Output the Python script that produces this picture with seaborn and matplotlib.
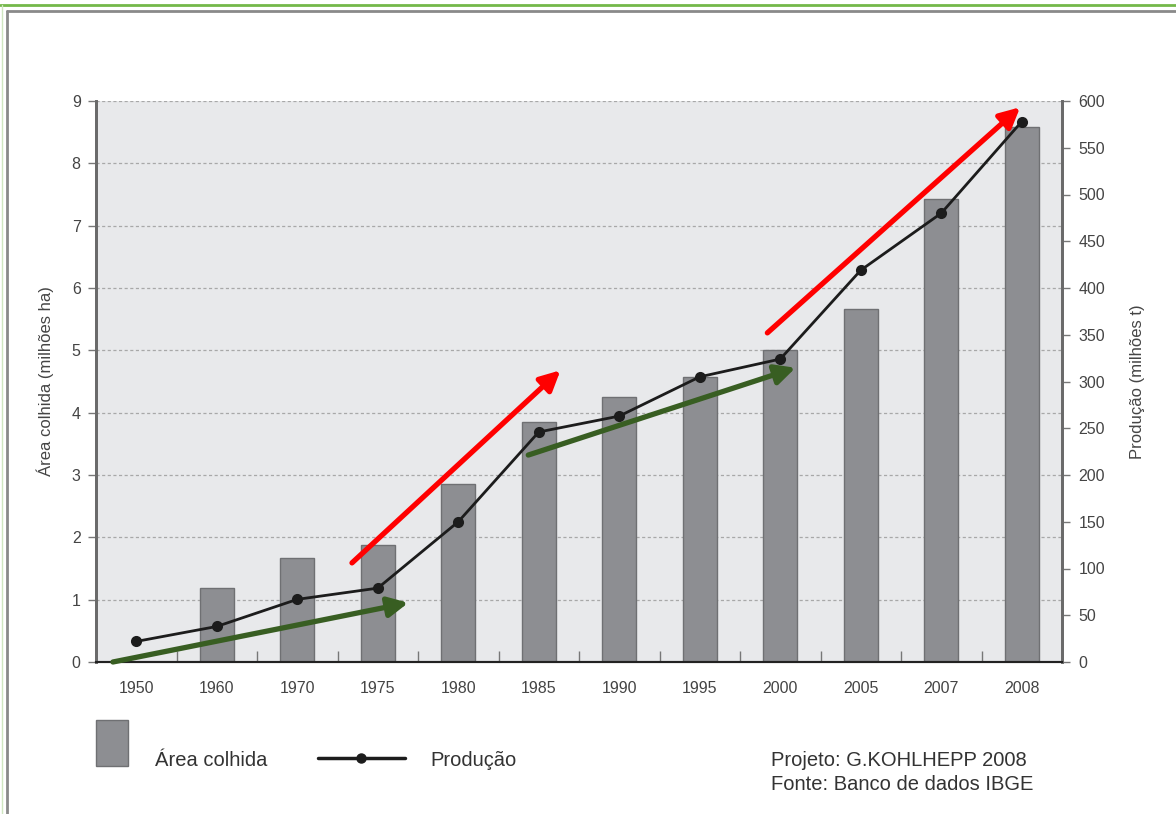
import numpy as np
import matplotlib
matplotlib.use("Agg")
import matplotlib.pyplot as plt
import seaborn as sns
from matplotlib.lines import Line2D
from matplotlib.patches import Rectangle

# dados
anos = ["1950", "1960", "1970", "1975", "1980", "1985", "1990", "1995",
        "2000", "2005", "2007", "2008"]
area_colhida = [np.nan, 1.19, 1.67, 1.88, 2.86, 3.85, 4.25, 4.57, 5.0, 5.67, 7.43, 8.59]
producao = [22, 38, 67, 79, 150, 246, 263, 305, 324, 419, 480, 578]

# setas (inicio, fim) em unidades de categoria / area
setas_vermelhas = [((2.68, 1.59), (5.27, 4.68)), ((7.84, 5.28), (10.98, 8.90))]
setas_verdes = [((-0.29, 0.0), (3.38, 0.95)), ((4.87, 3.32), (8.19, 4.72))]

sns.set_theme(style="white")
plt.rcParams["font.family"] = ["Liberation Sans", "DejaVu Sans"]

fig = plt.figure(figsize=(11.76, 8.14), dpi=100)
ax = fig.add_axes([96 / 1176, 1 - 662 / 814, 966 / 1176, 561 / 814])
ax.set_facecolor("#e8e9eb")

sns.barplot(x=anos, y=area_colhida, order=anos, ax=ax, color="#8d8e92",
            edgecolor="#6f7073", linewidth=1, width=0.42, saturation=1, zorder=2)
ax.set_xlim(-0.5, 11.5)
ax.set_ylim(0, 9)
ax.set_yticks(range(10))
ax.grid(axis="y", color="#a8a8a8", linestyle=(0, (2.5, 2)), linewidth=0.9)
ax.set_axisbelow(True)

ax2 = ax.twinx()
sns.pointplot(x=anos, y=producao, order=anos, ax=ax2, color="#1c1c1c",
              markersize=6.5, linewidth=2, zorder=5)
ax2.set_xlim(-0.5, 11.5)
ax2.set_ylim(0, 600)
ax2.set_yticks(range(0, 601, 50))

tc = "#444444"
ax.tick_params(axis="y", direction="out", length=6, width=1, color="#777777",
               labelsize=11.5, labelcolor=tc, pad=5, left=True)
ax2.tick_params(axis="y", direction="out", length=6, width=1, color="#777777",
                labelsize=11.5, labelcolor=tc, pad=6, right=True)
ax.tick_params(axis="x", which="major", length=0, pad=14, labelsize=11.5, labelcolor=tc)
ax.set_xticks(np.arange(0.5, 11.5, 1), minor=True)
ax.tick_params(axis="x", which="minor", direction="in", length=8, width=1,
               color="#777777", bottom=True)

for a in (ax, ax2):
    a.spines["top"].set_visible(False)
    a.spines["left"].set_color("#6a6a6a")
    a.spines["left"].set_linewidth(2)
    a.spines["right"].set_color("#6a6a6a")
    a.spines["right"].set_linewidth(2)
    a.spines["bottom"].set_color("#222222")
    a.spines["bottom"].set_linewidth(1.5)

ax.set_xlabel("")
ax.set_ylabel("Área colhida (milhões ha)", fontsize=12, color=tc, labelpad=13)
ax2.set_ylabel("Produção (milhões t)", fontsize=12, color=tc, labelpad=18)

# setas
for setas, cor in ((setas_vermelhas, "#ff0000"), (setas_verdes, "#385e22")):
    for ini, fim in setas:
        ax2.annotate("", xy=fim, xytext=ini, xycoords=ax.transData,
                     textcoords=ax.transData, zorder=10,
                     arrowprops=dict(arrowstyle="-|>,head_length=1.0,head_width=0.5",
                                     color=cor, lw=3.8, shrinkA=0, shrinkB=0))

# legenda
fig.add_artist(Rectangle((96 / 1176, 1 - 766 / 814), 32 / 1176, 46 / 814,
                         transform=fig.transFigure, facecolor="#8d8e92",
                         edgecolor="#6f7073", lw=1))
fig.text(155 / 1176, 1 - 760 / 814, "Área colhida", fontsize=14.5, color="#333333",
         va="center")
fig.add_artist(Line2D([318 / 1176, 405 / 1176], [1 - 758 / 814] * 2,
                      transform=fig.transFigure, color="#1c1c1c", lw=2.5))
fig.add_artist(Line2D([361 / 1176], [1 - 758 / 814], transform=fig.transFigure,
                      marker="o", color="#1c1c1c", markersize=6.5))
fig.text(430 / 1176, 1 - 760 / 814, "Produção", fontsize=14.5, color="#333333",
         va="center")
fig.text(771 / 1176, 1 - 760 / 814, "Projeto: G.KOHLHEPP 2008", fontsize=14.5,
         color="#333333", va="center")
fig.text(771 / 1176, 1 - 784 / 814, "Fonte: Banco de dados IBGE", fontsize=14.5,
         color="#333333", va="center")

# moldura
fig.add_artist(Line2D([0, 1], [1 - 5 / 814] * 2, transform=fig.transFigure,
                      color="#74b84a", lw=2))
fig.add_artist(Line2D([2 / 1176] * 2, [0, 1 - 5 / 814], transform=fig.transFigure,
                      color="#cfe6c0", lw=1))
fig.add_artist(Line2D([7 / 1176, 1], [1 - 11 / 814] * 2, transform=fig.transFigure,
                      color="#8a8a8a", lw=2))
fig.add_artist(Line2D([7 / 1176] * 2, [0, 1 - 11 / 814], transform=fig.transFigure,
                      color="#8a8a8a", lw=2))

fig.savefig("out.png", dpi=100)
